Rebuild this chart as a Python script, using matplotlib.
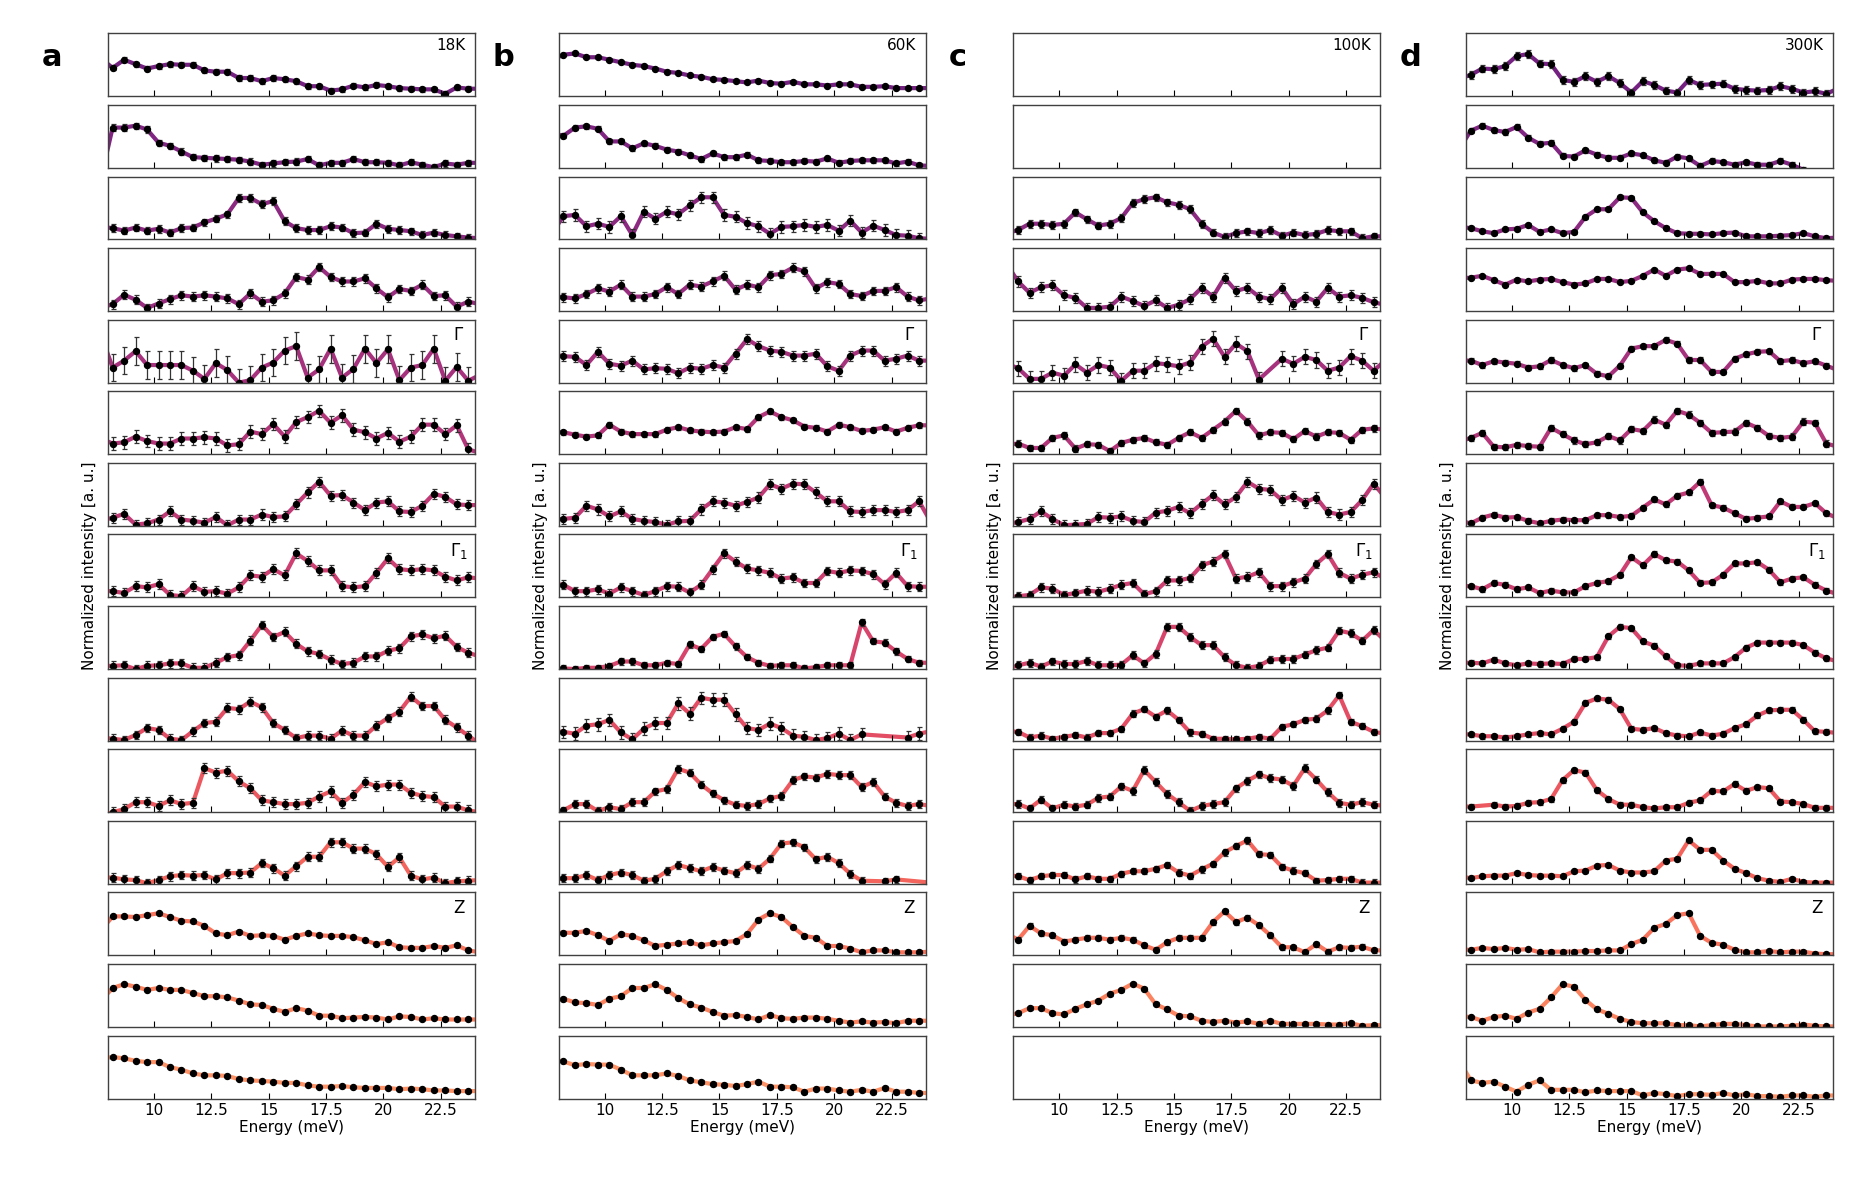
import numpy as np
import matplotlib
matplotlib.use('Agg')
import matplotlib.pyplot as plt

nan = float('nan')

# energy grid (meV); first and last points lie just outside the plotted range
energy = [7.7, 8.2, 8.7, 9.2, 9.7, 10.2, 10.7, 11.2, 11.7, 12.2, 12.7, 13.2,
          13.7, 14.2, 14.7, 15.2, 15.7, 16.2, 16.7, 17.2, 17.7, 18.2, 18.7,
          19.2, 19.7, 20.2, 20.7, 21.2, 21.7, 22.2, 22.7, 23.2, 23.7, 24.2]

temperatures = ['18K', '60K', '100K', '300K']
letters = ['a', 'b', 'c', 'd']
point_labels = {4: r'$\Gamma$', 7: r'$\Gamma_1$', 12: 'Z'}
xticks = [10, 12.5, 15, 17.5, 20, 22.5]
xticklabels = ['10', '12.5', '15', '17.5', '20', '22.5']

# normalized intensity, in % of panel height, rows top -> bottom
int_18K = [
    [60,45,58,51,44,48,51,50,50,41,39,39,29,29,24,29,27,24,16,16,9,11,17,14,18,16,13,12,11,11,4,14,12,12],
    [-15,64,64,67,61,40,35,26,17,16,15,14,13,10,5,7,9,10,14,4,8,8,14,9,9,8,4,9,5,1,7,5,8,8],
    [20,18,14,19,14,17,11,18,19,27,33,40,66,66,56,61,29,18,15,15,21,19,10,11,25,17,15,13,7,11,7,5,3,2],
    [5,11,26,18,5,12,19,25,23,25,23,20,11,28,15,17,28,54,50,70,54,47,47,52,36,22,35,32,42,24,25,7,15,11],
    [75,24,35,50,28,28,28,28,19,6,31,20,0,4,24,32,51,58,8,21,54,8,22,54,31,53,4,24,28,54,3,25,3,12],
    [25,17,19,28,21,17,17,25,25,27,25,14,16,36,32,48,28,51,59,69,50,62,39,35,25,34,20,28,47,47,32,46,8,2],
    [8,13,19,2,4,10,23,10,8,5,14,1,10,10,18,14,15,34,53,70,48,49,37,25,37,39,23,22,32,51,46,34,33,33],
    [10,10,7,18,16,21,4,2,18,9,10,6,16,35,33,45,35,70,58,43,43,18,16,18,39,62,45,43,45,43,33,27,32,30],
    [5,5,6,0,5,6,9,9,2,2,10,19,22,45,70,51,59,40,28,24,15,8,10,20,20,29,33,52,55,49,53,35,26,20],
    [5,3,1,9,20,17,3,1,15,28,30,52,50,62,53,28,17,4,8,8,3,16,8,8,24,36,46,70,55,55,33,21,8,-5],
    [-5,0,5,16,16,10,19,13,15,70,63,66,49,38,19,16,13,13,15,25,33,15,28,48,41,44,44,31,26,24,9,9,3,0],
    [10,10,7,6,1,6,12,14,13,14,7,17,17,18,33,25,13,28,43,43,66,66,56,56,47,27,42,13,7,10,1,4,5,6],
    [40,62,62,61,64,67,61,55,54,47,35,32,38,31,32,31,25,31,35,32,31,31,29,24,18,21,13,12,12,15,12,16,8,5],
    [42,62,68,64,59,62,59,59,54,49,49,47,42,36,35,29,24,30,26,18,18,14,15,16,15,12,17,16,12,14,12,12,12,12],
    [64,66,64,60,58,58,50,46,40,37,37,36,31,29,28,27,25,25,21,19,19,20,18,17,17,17,15,16,15,13,13,12,12,12],
]
err_18K = [4, 5, 6, 7, 22, 10, 8, 8, 7, 7, 8, 7, 2, 1, 1]

int_60K = [
    [58,66,68,62,62,58,54,50,48,44,39,37,33,31,27,26,24,22,25,21,20,23,19,19,17,19,19,15,15,16,13,13,13,13],
    [55,51,64,66,62,42,42,31,39,35,29,26,20,14,23,17,17,21,12,11,9,9,11,10,15,8,11,12,12,12,7,10,4,3],
    [10,37,39,21,25,20,37,7,44,33,44,40,54,67,67,39,36,26,21,9,20,21,23,20,23,14,30,11,22,15,7,6,2,1],
    [24,22,20,27,36,31,42,23,23,27,38,27,42,39,47,56,34,42,38,57,59,69,63,36,46,43,27,24,32,32,38,23,17,20],
    [45,42,41,28,49,30,27,35,21,23,22,15,24,22,28,24,46,69,58,51,49,43,43,46,26,19,43,51,51,35,38,43,35,35],
    [35,35,31,28,30,47,36,32,32,32,39,43,38,36,35,36,43,40,59,68,59,54,44,42,36,47,43,37,39,43,36,42,46,46],
    [10,11,13,32,26,15,23,11,8,6,2,7,8,26,39,37,32,38,45,66,59,67,66,53,39,39,23,22,25,25,22,25,39,7],
    [22,20,10,10,13,6,16,10,4,10,18,17,8,20,45,70,57,46,43,39,30,32,23,23,42,39,43,42,37,21,39,18,17,17],
    [0,1,0,2,2,5,12,12,6,6,10,8,39,32,51,56,36,19,10,5,6,6,1,3,6,6,6,74,44,42,28,16,10,10],
    [15,14,11,24,26,33,13,2,19,28,28,59,43,68,65,65,42,20,17,27,20,8,6,1,4,11,1,10,nan,nan,nan,5,11,15],
    [0,3,13,13,2,8,5,16,16,33,37,69,63,44,30,19,12,10,13,22,26,51,57,55,61,59,59,40,48,25,15,10,13,10],
    [5,9,9,14,6,14,18,14,5,8,20,30,25,20,27,21,17,30,24,40,64,66,58,39,43,33,16,5,nan,4,7,nan,nan,2],
    [36,36,36,39,32,23,34,31,24,15,17,19,21,16,19,21,23,34,57,67,61,45,31,28,15,15,11,5,8,8,5,5,5,6],
    [40,45,39,38,35,45,49,62,62,68,59,46,36,31,24,18,19,16,12,19,14,13,15,15,13,10,7,9,7,8,6,10,10,10],
    [62,59,53,55,54,54,46,37,37,37,40,36,29,26,23,22,20,23,27,19,19,18,11,16,16,13,11,14,11,17,11,11,9,9],
]
err_60K = [1, 4, 9, 7, 8, 4, 8, 7, 5, 10, 6, 6, 3, 3, 3]

int_100K = [
    None,
    None,
    [10,15,25,25,23,25,43,32,22,25,34,58,64,67,59,55,48,25,11,4,10,13,10,15,6,11,7,9,15,13,13,2,5,5],
    [75,47,29,38,41,25,21,5,5,7,23,16,8,17,5,10,19,37,23,53,32,37,23,19,37,11,23,15,37,23,25,21,14,10],
    [30,23,6,6,16,11,29,16,28,24,3,19,19,31,29,26,32,57,70,41,62,50,5,nan,38,30,41,36,19,24,42,35,19,35],
    [15,17,10,10,26,30,9,16,15,5,18,23,26,19,15,26,35,26,39,52,69,52,30,35,34,24,37,28,35,34,23,39,41,39],
    [3,6,11,23,11,1,2,3,14,13,15,8,6,21,24,30,20,35,49,34,46,70,59,57,41,48,37,45,22,18,22,41,67,45],
    [0,2,4,16,14,4,7,11,9,14,20,23,5,10,27,27,31,51,57,69,30,33,40,18,18,24,30,53,69,39,30,36,40,30],
    [0,6,10,4,12,8,8,13,6,6,7,22,9,24,67,67,51,38,38,19,6,2,5,15,16,16,23,30,34,61,57,45,62,45],
    [15,14,5,8,3,6,9,5,12,12,19,43,50,38,48,33,13,11,3,3,2,3,6,3,22,26,33,35,48,72,30,23,14,11],
    [13,13,6,20,6,12,9,12,23,25,41,34,67,48,29,16,2,10,13,16,38,50,60,54,52,42,70,52,32,15,12,16,12,10],
    [14,12,6,12,14,14,7,12,8,8,16,20,20,24,30,18,13,23,32,50,60,69,47,46,27,21,17,5,6,8,8,2,2,2],
    [35,25,47,35,32,22,25,28,28,25,28,25,16,9,21,28,28,28,53,70,53,60,48,32,13,13,5,18,6,13,12,14,8,8],
    [18,22,30,30,22,20,29,36,42,53,59,69,61,36,28,18,17,10,8,10,7,9,5,10,5,5,5,5,4,4,6,2,3,3],
    None,
]
err_100K = [0, 0, 6, 8, 12, 5, 8, 7, 6, 5, 6, 5, 4, 3, 0]

int_300K = [
    [28,34,44,43,48,64,67,52,51,26,23,32,23,32,21,6,24,18,9,6,26,18,19,20,12,10,9,10,16,12,6,8,4,12],
    [30,59,67,60,57,65,48,38,40,19,18,28,21,16,16,23,20,12,8,18,15,3,11,9,5,9,5,5,11,5,-3,-8,-12,-15],
    [20,18,13,10,16,17,23,12,16,10,12,36,48,48,67,66,43,29,18,10,9,9,8,10,11,5,5,5,6,7,10,5,2,3],
    [52,53,56,49,42,50,47,50,51,46,42,44,51,51,46,48,56,66,56,66,68,59,59,59,46,46,48,44,44,50,51,51,49,48],
    [35,35,28,34,32,30,24,26,36,28,23,28,14,10,27,54,58,58,68,62,36,36,17,17,38,45,49,50,34,36,31,34,27,20],
    [20,26,34,12,11,15,13,12,42,32,22,16,19,29,22,40,37,55,47,69,63,50,34,35,36,50,42,29,26,28,52,50,17,12],
    [8,4,13,18,13,14,8,4,8,10,9,9,17,17,14,16,29,42,34,48,53,70,33,29,20,11,13,15,39,30,30,36,20,12],
    [18,18,13,23,20,13,16,7,11,8,8,18,23,26,36,64,51,69,59,57,43,23,24,36,54,54,56,44,24,30,32,20,11,5],
    [10,10,9,15,9,6,9,8,9,8,16,16,19,52,67,65,44,37,20,6,5,9,9,9,19,34,42,42,42,42,38,26,17,12],
    [10,10,7,7,5,7,10,12,10,19,30,60,67,65,50,19,17,20,12,8,7,13,8,11,20,26,40,48,49,49,33,15,14,12],
    [9,9,nan,12,9,10,15,16,21,51,67,63,35,21,12,12,8,6,8,8,15,19,34,33,45,34,40,38,17,16,13,7,7,7],
    [12,9,12,13,13,17,14,13,13,12,20,21,29,30,21,18,18,20,37,40,69,54,54,37,24,17,9,5,3,8,3,2,2,2],
    [9,9,12,10,12,9,10,5,6,6,6,7,7,8,8,18,25,44,50,64,67,31,20,17,9,5,5,7,5,6,6,3,2,2],
    [17,16,10,16,18,13,23,29,47,68,64,43,28,21,13,8,6,6,6,3,3,1,3,5,5,3,1,1,1,2,4,2,1,1],
    [60,29,25,27,19,11,22,29,14,14,14,10,13,12,12,12,5,9,7,4,7,7,6,9,5,7,4,4,3,5,5,3,5,5],
]
err_300K = [6, 4, 3, 2, 4, 5, 4, 4, 4, 4, 4, 3, 2, 2, 2]

columns = [int_18K, int_60K, int_100K, int_300K]
errors = [err_18K, err_60K, err_100K, err_300K]

fig = plt.figure(figsize=(18.63, 11.77), dpi=100)

lefts = [0.058, 0.300, 0.544, 0.787]
width = 0.197
top, h, gap = 0.9717, 0.0535, 0.00733
colors = plt.cm.magma(np.linspace(0.34, 0.77, 15))
x = np.array(energy)

for j in range(4):
    for i in range(15):
        ax = fig.add_axes([lefts[j], top - h - i * (h + gap), width, h])
        vals = columns[j][i]
        if vals is not None:
            y = np.array(vals, dtype=float)
            m = ~np.isnan(y)
            ax.plot(x[m], y[m], color=colors[i], lw=3.0, zorder=1)
            ax.errorbar(x[m], y[m], yerr=errors[j][i], fmt='o', ms=4.3,
                        color='k', ecolor='0.2', elinewidth=0.9, capsize=1.8,
                        capthick=0.9, zorder=2)
        ax.set_xlim(8, 24)
        ax.set_ylim(0, 100)
        ax.set_yticks([])
        ax.set_xticks(xticks)
        ax.tick_params(axis='x', direction='in', length=4, width=0.8,
                       labelsize=11, labelbottom=(i == 14))
        for s in ax.spines.values():
            s.set_color('0.25')
            s.set_linewidth(1)
        if i == 0:
            ax.text(0.975, 0.92, temperatures[j], transform=ax.transAxes,
                    ha='right', va='top', fontsize=11)
        if i in point_labels:
            ax.text(0.955, 0.9, point_labels[i], transform=ax.transAxes,
                    ha='center', va='top', fontsize=12)
        if i == 14:
            ax.set_xticklabels(xticklabels)
            ax.set_xlabel('Energy (meV)', fontsize=11, labelpad=1)

    fig.text(lefts[j] - 0.030, 0.951, letters[j], fontsize=22,
             fontweight='bold', ha='center', va='center')
    fig.text(lefts[j] - 0.010, 0.519, 'Normalized intensity [a. u.]',
             rotation=90, ha='center', va='center', fontsize=11)

fig.savefig('out.png', dpi=100)
